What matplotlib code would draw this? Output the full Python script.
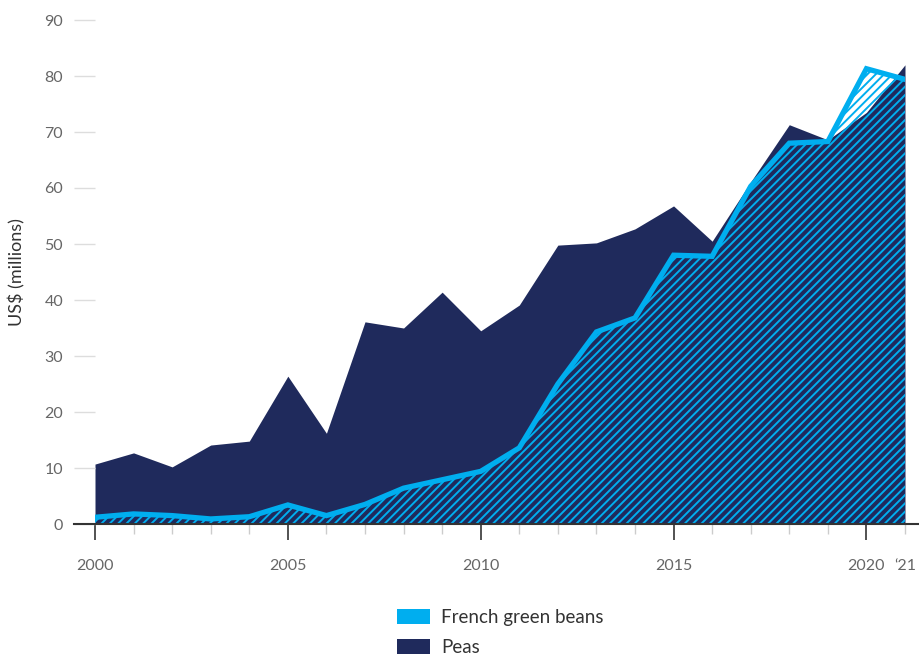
import matplotlib
matplotlib.use("Agg")
import matplotlib.pyplot as plt
from matplotlib.patches import Patch
from matplotlib.lines import Line2D
from matplotlib.ticker import MultipleLocator

# data (US$ millions)
years = list(range(2000, 2022))
peas = [10.7, 12.7, 10.2, 14.1, 14.8, 26.4, 16.2, 36.1, 35.0, 41.4, 34.5,
        39.1, 49.8, 50.2, 52.7, 56.8, 50.5, 61.1, 71.3, 68.6, 73.5, 82.0]
beans = [1.2, 1.8, 1.5, 0.9, 1.3, 3.4, 1.5, 3.5, 6.4, 7.9, 9.4,
         13.6, 25.0, 34.3, 36.8, 48.0, 47.8, 60.3, 68.0, 68.3, 81.3, 79.4]
major_years = [2000, 2005, 2010, 2015, 2020]
minor_labels = ["" for y in years[:-1]] + ["\u201821"]

navy = "#1f2a5c"
blue = "#00aeef"

plt.rcParams["font.family"] = ["Lato", "DejaVu Sans"]
plt.rcParams["hatch.linewidth"] = 1.4
plt.rcParams["hatch.color"] = blue

fig = plt.figure(figsize=(9.19, 6.55), dpi=100)
ax = fig.add_axes([95 / 919, 0.2, (905 - 95) / 919, (524 - 20) / 655])

ax.fill_between(years, 0, peas, color=navy, linewidth=0, zorder=1)
ax.fill_between(years, 0, beans, facecolor="none", edgecolor=blue,
                hatch="////", linewidth=0, zorder=2)
ax.plot(years, beans, color=blue, linewidth=3.8, solid_joinstyle="miter", zorder=3)

ax.set_xlim(2000, 2021)
ax.set_ylim(0, 90)

for s in ["top", "right", "left", "bottom"]:
    ax.spines[s].set_visible(False)

ax.yaxis.set_major_locator(MultipleLocator(10))
ax.tick_params(axis="y", length=15, width=1, color="#dddddd", pad=8,
               labelsize=11.5, labelcolor="#666666")

ax.set_xticks(major_years)
ax.set_xticks(years, labels=minor_labels, minor=True)
ax.tick_params(axis="x", which="major", length=11.5, width=1.3, color="#444444",
               pad=14, labelsize=11.5, labelcolor="#666666")
ax.tick_params(axis="x", which="minor", length=7.5, width=1, color="#cccccc",
               pad=18, labelsize=11.5, labelcolor="#666666")

ax.set_ylabel("US$ (millions)", fontsize=13, color="#333333")
ax.yaxis.set_label_coords(-70 / 810, 0.5)

# baseline
fig.add_artist(Line2D([74 / 919, 1.0], [0.2, 0.2], color="#333333", linewidth=1.5))

handles = [Patch(facecolor=blue, edgecolor="none", label="French green beans"),
           Patch(facecolor=navy, edgecolor="none", label="Peas")]
fig.legend(handles=handles, loc="upper left", bbox_to_anchor=(388 / 919, 1 - 600 / 655),
           frameon=False, fontsize=13.5, handlelength=1.75, handleheight=0.85,
           handletextpad=0.6, labelspacing=0.65, borderpad=0, labelcolor="#333333")

fig.savefig("out.png", dpi=100)
